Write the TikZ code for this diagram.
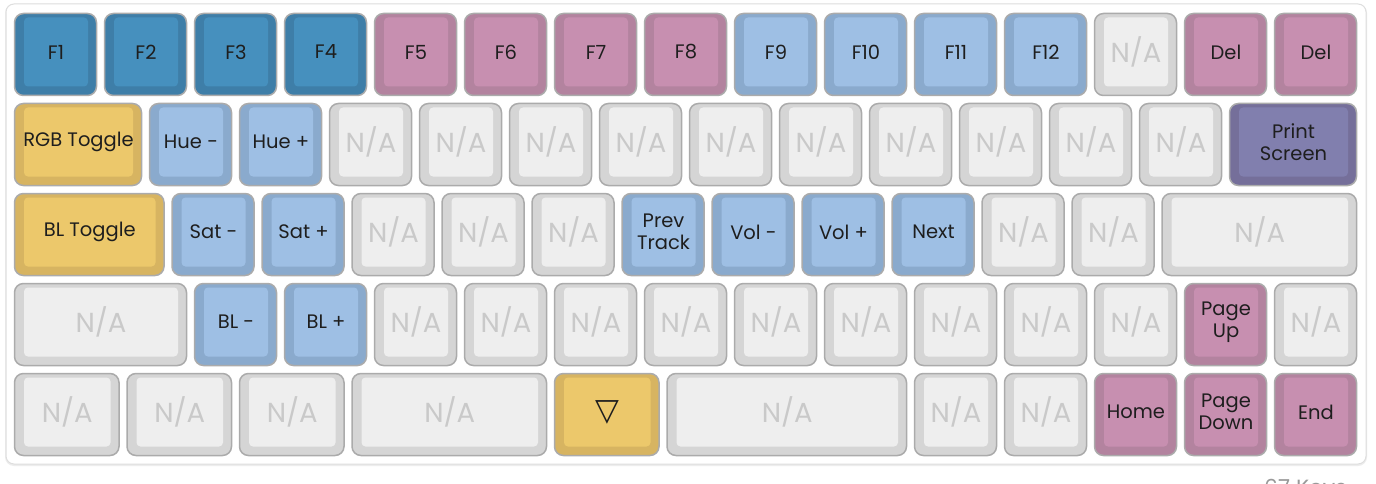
\documentclass[tikz,border=0pt]{standalone}
\usepackage{fontspec}
\setmainfont{Poppins}
\newfontfamily\symfont{DejaVu Sans}
\definecolor{dbout}{HTML}{3E7EA8}
\definecolor{dbin}{HTML}{4690BE}
\definecolor{pkout}{HTML}{B3839F}
\definecolor{pkin}{HTML}{C78FB0}
\definecolor{lbout}{HTML}{8AAACD}
\definecolor{lbin}{HTML}{9EBFE4}
\definecolor{gyout}{HTML}{D5D5D5}
\definecolor{gyin}{HTML}{EEEEEE}
\definecolor{ylout}{HTML}{D7B461}
\definecolor{ylin}{HTML}{ECC86B}
\definecolor{puout}{HTML}{756F9A}
\definecolor{puin}{HTML}{817FAE}
\definecolor{keyedge}{HTML}{ABABAB}
\definecolor{cardedge}{HTML}{DEDEDE}
\definecolor{natext}{HTML}{C9C9C9}
\definecolor{lbltext}{HTML}{1E1E1E}
\definecolor{foottext}{HTML}{999999}
\tikzset{
  keyout/.style={rectangle, rounded corners=9pt, draw=keyedge, line width=1.5pt, minimum height=82pt, inner sep=0pt, outer sep=0pt},
  keyin/.style={rectangle, rounded corners=4pt, draw=none, minimum height=69pt, inner sep=0pt, outer sep=0pt},
  lbl/.style={inner sep=0pt, align=center, text=lbltext, font=\fontsize{19.5}{22}\selectfont},
  dbtxt/.style={lbl}, pktxt/.style={lbl}, lbtxt/.style={lbl}, yltxt/.style={lbl}, putxt/.style={lbl},
  gytxt/.style={inner sep=0pt, text=natext, font=\fontsize{27.5}{30}\selectfont},
  sym/.style={inner sep=0pt, text=lbltext, font=\symfont\fontsize{31}{34}\selectfont},
  card/.style={draw=cardedge, line width=1pt, fill=white, rounded corners=8pt},
  cardshadow/.style={fill=black!7, draw=none, rounded corners=9pt},
  foot/.style={inner sep=0pt, text=foottext, font=\fontsize{22}{26}\selectfont},
}
\newcommand\kc[6]{%
  \pgfmathsetmacro\kw{90*#4-8}%
  \pgfmathsetmacro\kx{14.5+90*#2+\kw/2}%
  \pgfmathsetmacro\ky{54.5+90*#3}%
  \pgfmathsetmacro\iw{\kw-18}%
  \node[keyout, fill=#5out, minimum width=\kw pt] (#1) at (\kx,\ky) {};
  \node[keyin, fill=#5in, minimum width=\iw pt] (#1i) at (\kx+0.5,\ky-2.5) {};
  \node[#5txt] (#1t) at (#1i) {#6};
}
\begin{document}
\begin{tikzpicture}[x=1pt,y=-1pt]
\useasboundingbox (0,0) rectangle (1376,484);
\clip (0,0) rectangle (1376,484);
\fill[white] (0,0) rectangle (1376,484);
\fill[cardshadow] (5,4) rectangle (1367,466);
\draw[card] (6,4) rectangle (1366,464);
% row 0
\kc{a1}{0}{0}{1}{db}{F1}
\kc{a2}{1}{0}{1}{db}{F2}
\kc{a3}{2}{0}{1}{db}{F3}
\kc{a4}{3}{0}{1}{db}{F4}
\kc{a5}{4}{0}{1}{pk}{F5}
\kc{a6}{5}{0}{1}{pk}{F6}
\kc{a7}{6}{0}{1}{pk}{F7}
\kc{a8}{7}{0}{1}{pk}{F8}
\kc{a9}{8}{0}{1}{lb}{F9}
\kc{a10}{9}{0}{1}{lb}{F10}
\kc{a11}{10}{0}{1}{lb}{F11}
\kc{a12}{11}{0}{1}{lb}{F12}
\kc{a13}{12}{0}{1}{gy}{N/A}
\kc{a14}{13}{0}{1}{pk}{Del}
\kc{a15}{14}{0}{1}{pk}{Del}
% row 1
\kc{b1}{0}{1}{1.5}{yl}{RGB Toggle}
\kc{b2}{1.5}{1}{1}{lb}{Hue -}
\kc{b3}{2.5}{1}{1}{lb}{Hue +}
\kc{b4}{3.5}{1}{1}{gy}{N/A}
\kc{b5}{4.5}{1}{1}{gy}{N/A}
\kc{b6}{5.5}{1}{1}{gy}{N/A}
\kc{b7}{6.5}{1}{1}{gy}{N/A}
\kc{b8}{7.5}{1}{1}{gy}{N/A}
\kc{b9}{8.5}{1}{1}{gy}{N/A}
\kc{b10}{9.5}{1}{1}{gy}{N/A}
\kc{b11}{10.5}{1}{1}{gy}{N/A}
\kc{b12}{11.5}{1}{1}{gy}{N/A}
\kc{b13}{12.5}{1}{1}{gy}{N/A}
\kc{b14}{13.5}{1}{1.5}{pu}{Print\\Screen}
% row 2
\kc{c1}{0}{2}{1.75}{yl}{BL Toggle}
\kc{c2}{1.75}{2}{1}{lb}{Sat -}
\kc{c3}{2.75}{2}{1}{lb}{Sat +}
\kc{c4}{3.75}{2}{1}{gy}{N/A}
\kc{c5}{4.75}{2}{1}{gy}{N/A}
\kc{c6}{5.75}{2}{1}{gy}{N/A}
\kc{c7}{6.75}{2}{1}{lb}{Prev\\Track}
\kc{c8}{7.75}{2}{1}{lb}{Vol -}
\kc{c9}{8.75}{2}{1}{lb}{Vol +}
\kc{c10}{9.75}{2}{1}{lb}{Next}
\kc{c11}{10.75}{2}{1}{gy}{N/A}
\kc{c12}{11.75}{2}{1}{gy}{N/A}
\kc{c13}{12.75}{2}{2.25}{gy}{N/A}
% row 3
\kc{d1}{0}{3}{2}{gy}{N/A}
\kc{d2}{2}{3}{1}{lb}{BL -}
\kc{d3}{3}{3}{1}{lb}{BL +}
\kc{d4}{4}{3}{1}{gy}{N/A}
\kc{d5}{5}{3}{1}{gy}{N/A}
\kc{d6}{6}{3}{1}{gy}{N/A}
\kc{d7}{7}{3}{1}{gy}{N/A}
\kc{d8}{8}{3}{1}{gy}{N/A}
\kc{d9}{9}{3}{1}{gy}{N/A}
\kc{d10}{10}{3}{1}{gy}{N/A}
\kc{d11}{11}{3}{1}{gy}{N/A}
\kc{d12}{12}{3}{1}{gy}{N/A}
\kc{d13}{13}{3}{1}{pk}{Page\\Up}
\kc{d14}{14}{3}{1}{gy}{N/A}
% row 4
\kc{e1}{0}{4}{1.25}{gy}{N/A}
\kc{e2}{1.25}{4}{1.25}{gy}{N/A}
\kc{e3}{2.5}{4}{1.25}{gy}{N/A}
\kc{e4}{3.75}{4}{2.25}{gy}{N/A}
\kc{e5}{6}{4}{1.25}{yl}{}
\node[sym] (e5s) at (e5i) {▽};
\kc{e6}{7.25}{4}{2.75}{gy}{N/A}
\kc{e7}{10}{4}{1}{gy}{N/A}
\kc{e8}{11}{4}{1}{gy}{N/A}
\kc{e9}{12}{4}{1}{pk}{Home}
\kc{e10}{13}{4}{1}{pk}{Page\\Down}
\kc{e11}{14}{4}{1}{pk}{End}
% footer
\node[foot, anchor=base west] (footer) at (1264,495) {67 Keys};
\end{tikzpicture}
\end{document}
